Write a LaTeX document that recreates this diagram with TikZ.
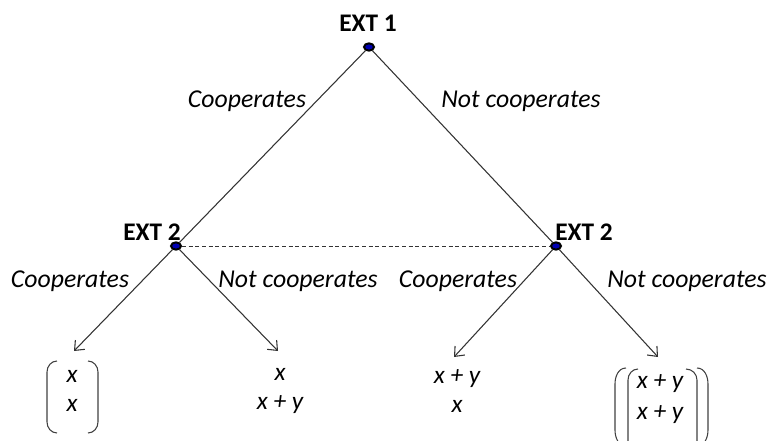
\documentclass[tikz,border=0pt]{standalone}
\usepackage{fontspec}
\setmainfont{Carlito}
\usetikzlibrary{shapes.geometric, arrows.meta}
\tikzstyle{dot} = [ellipse,
minimum width=7.5pt,
minimum height=5.5pt,
inner sep=0pt,
draw=black,
line width=1.5pt,
fill=blue!70!black]
\tikzstyle{player} = [font=\fontsize{19}{22}\selectfont\bfseries, inner sep=1pt]
\tikzstyle{move} = [font=\fontsize{19.3}{22}\selectfont\itshape, inner sep=1pt]
\tikzstyle{payoff} = [align=center, font=\fontsize{19}{22}\selectfont\itshape, inner sep=1pt]
\tikzstyle{branch} = [line width=0.8pt, black!80]
\tikzstyle{arrow} = [branch, ->, >={Straight Barb[length=6pt,width=10pt]}]
\tikzstyle{paren} = [line width=0.8pt, black!75]

\begin{document}
\begin{tikzpicture}[x=0.75pt, y=-0.75pt]
\useasboundingbox (0,0) rectangle (769,440);
% players
\node (root) [dot] at (369,47) {};
\node (ext2l) [dot] at (176,246) {};
\node (ext2r) [dot] at (556,246) {};
\node (lab1) [player] at (368,23) {EXT 1};
\node (lab2l) [player] at (152,232) {EXT 2};
\node (lab2r) [player] at (584,232) {EXT 2};
% end points of the arrows
\coordinate (e1) at (74,351);
\coordinate (e2) at (278,351);
\coordinate (e3) at (454,357);
\coordinate (e4) at (658,357);
% moves
\node (m1) [move] at (247,101) {Cooperates};
\node (m2) [move] at (521,101) {Not cooperates};
\node (m3) [move] at (70,281) {Cooperates};
\node (m4) [move] at (298,281) {Not cooperates};
\node (m5) [move] at (458,281) {Cooperates};
\node (m6) [move] at (687,281) {Not cooperates};
% payoffs
\node (p1) [payoff] at (72,391) {x\\x};
\node (p2) [payoff] at (280,391) {x\\x + y};
\node (p3) [payoff] at (457,391) {x + y\\x};
\node (p4) [payoff, font=\fontsize{19}{23.5}\selectfont\itshape] at (660,399) {x + y\\x + y};
\draw [branch] (root) -- (ext2l);
\draw [branch] (root) -- (ext2r);
\draw [branch, dashed, dash pattern=on 3pt off 2pt, line width=0.6pt] (ext2l) -- (ext2r);
\draw [arrow] (ext2l) -- (e1);
\draw [arrow] (ext2l) -- (e2);
\draw [arrow] (ext2r) -- (e3);
\draw [arrow] (ext2r) -- (e4);
% brackets
\draw [paren] (57,361) to[out=180, in=90] (47,372) -- (47,422) to[out=-90, in=180] (57,433);
\draw [paren] (88,361) to[out=0, in=90] (98,372) -- (98,422) to[out=-90, in=0] (88,433);
\draw [paren] (626,368) to[out=180, in=90] (615,384) -- (615,430) to[out=-90, in=180] (626,446);
\draw [paren] (638,369) to[out=180, in=90] (628,380) -- (628,446);
\draw [paren] (697,368) to[out=0, in=90] (708,384) -- (708,430) to[out=-90, in=0] (697,446);
\draw [paren] (686,369) to[out=0, in=90] (697,380) -- (697,446);
\end{tikzpicture}
\end{document}
